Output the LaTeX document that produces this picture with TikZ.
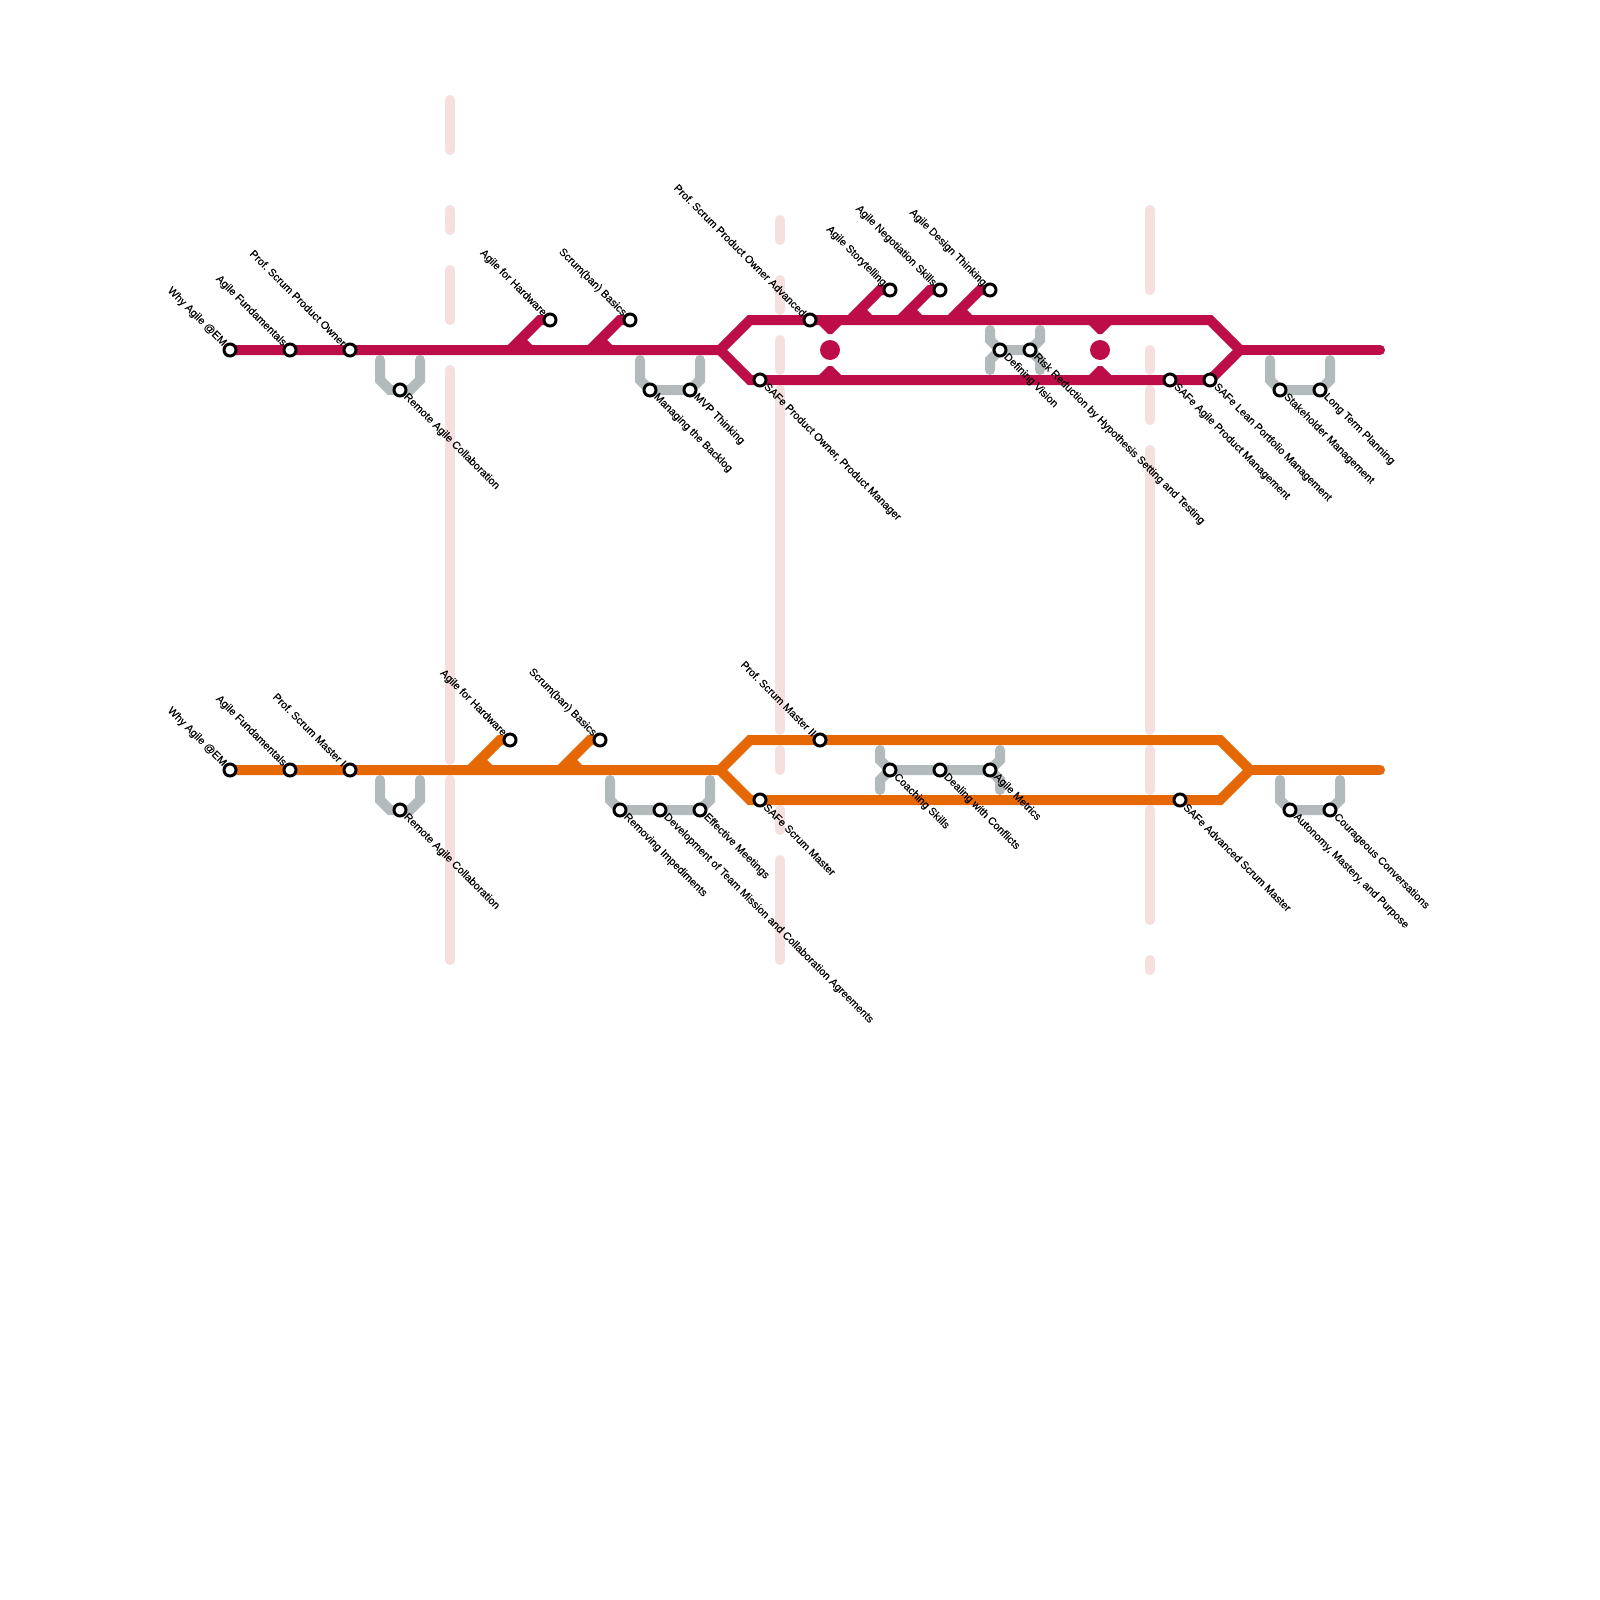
\documentclass[tikz,border=0pt]{standalone}
\usepackage{fontspec}
\setmainfont{Liberation Sans}[FakeBold=0.25]
\usepackage{xcolor}
\usetikzlibrary{backgrounds}
\definecolor{rosso}{HTML}{BC0D49}
\definecolor{arancio}{HTML}{E66805}
\definecolor{grigio}{HTML}{B3BABB}
\definecolor{rosa}{HTML}{F6DFDF}

\begin{document}
\frenchspacing
\begin{tikzpicture}[x=1mm,y=-1mm,
    track/.style={line width=1mm,line join=miter},
    side/.style={line width=1mm,color=grigio,line cap=round},
    phase/.style={line width=1mm,color=rosa,line cap=round},
    stn/.style={circle,draw=black,fill=white,line width=0.3mm,minimum size=1.2mm,inner sep=0pt},
    hub/.style={circle,fill=rosso,minimum size=2mm,inner sep=0pt},
    lbl/.style={rotate=-45,inner sep=0pt,font=\fontsize{3.05}{3.7}\selectfont}]
  \useasboundingbox (0,0) rectangle (160,160);

  % labels go up-left of the stop
  \foreach \nm/\px/\py/\txt in {
    mwhy/23/35/{Why Agile @EM}, mfun/29/35/{Agile Fundamentals},
    mpso/35/35/{Prof. Scrum Product Owner}, mhw/55/32/{Agile for Hardware},
    mban/63/32/{Scrum(ban) Basics}, mpsa/81/32/{Prof. Scrum Product Owner Advanced},
    mtel/89/29/{Agile Storytelling}, mneg/94/29/{Agile Negotiation Skills},
    mdes/99/29/{Agile Design Thinking},
    owhy/23/77/{Why Agile @EM}, ofun/29/77/{Agile Fundamentals},
    opsm/35/77/{Prof. Scrum Master I}, ohw/51/74/{Agile for Hardware},
    oban/60/74/{Scrum(ban) Basics}, opst/82/74/{Prof. Scrum Master II}}{
    \node[stn] (\nm) at (\px,\py) {};
    \node[lbl,anchor=east] (\nm-t) at (\px-0.5,\py-0.5) {\txt};
  }

  % labels go down-right of the stop
  \foreach \nm/\px/\py/\txt in {
    mrem/40/39/{Remote Agile Collaboration}, mbac/65/39/{Managing the Backlog},
    mmvp/69/39/{MVP Thinking}, mpom/76/38/{SAFe Product Owner, Product Manager},
    mvis/100/35/{Defining Vision}, mrisk/103/35/{Risk Reduction by Hypothesis Setting and Testing},
    mapm/117/38/{SAFe Agile Product Management}, mlpm/121/38/{SAFe Lean Portfolio Management},
    msta/128/39/{Stakeholder Management}, mltp/132/39/{Long Term Planning},
    orem/40/81/{Remote Agile Collaboration}, oimp/62/81/{Removing Impediments},
    odev/66/81/{Development of Team Mission and Collaboration Agreements},
    oeff/70/81/{Effective Meetings}, osm/76/80/{SAFe Scrum Master},
    ocoa/89/77/{Coaching Skills}, ocon/94/77/{Dealing with Conflicts},
    omet/99/77/{Agile Metrics}, oadv/118/80/{SAFe Advanced Scrum Master},
    oaut/129/81/{Autonomy, Mastery, and Purpose}, ocou/133/81/{Courageous Conversations}}{
    \node[stn] (\nm) at (\px,\py) {};
    \node[lbl,anchor=west] (\nm-t) at (\px+0.5,\py+0.5) {\txt};
  }

  \coordinate (mfork) at (72,35);
  \coordinate (mjoin) at (124,35);
  \coordinate (mend) at (138,35);
  \coordinate (ofork) at (72,77);
  \coordinate (ojoin) at (125,77);
  \coordinate (oend) at (138,77);
  \node[hub] (hubA) at (83,35) {};
  \node[hub] (hubB) at (110,35) {};

  \begin{pgfonlayer}{background}
    % phase bars
    \foreach \bx/\ya/\yb in {
      45/10/15,45/21/23,45/27/32,45/37/76,45/78/96,
      78/22/24,78/28/31,78/34/37,78/39/73,78/75/77,78/81/83,78/86/96,
      115/21/29,115/35/37,115/39/42,115/45/73,115/75/79,115/81/92,115/96/97}{
      \draw[phase] (\bx,\ya) -- (\bx,\yb);
    }

    % side tracks
    \draw[side] (mrem.center) -- ++(-1,0) -- ++(-1,-1) -- ++(0,-2);
    \draw[side] (mrem.center) -- ++(1,0) -- ++(1,-1) -- ++(0,-2);
    \draw[side] (mbac.center) -- ++(-1,-1) -- ++(0,-2);
    \draw[side] (mbac.center) -- (mmvp.center) -- ++(1,-1) -- ++(0,-2);
    \draw[side] (mvis.center) -- ++(-1,-1) -- ++(0,-1);
    \draw[side] (mvis.center) -- ++(-1,1) -- ++(0,1);
    \draw[side] (mvis.center) -- (mrisk.center) -- ++(1,-1) -- ++(0,-1);
    \draw[side] (mrisk.center) -- ++(1,1) -- ++(0,1);
    \draw[side] (msta.center) -- ++(-1,-1) -- ++(0,-2);
    \draw[side] (msta.center) -- (mltp.center) -- ++(1,-1) -- ++(0,-2);
    \draw[side] (orem.center) -- ++(-1,0) -- ++(-1,-1) -- ++(0,-2);
    \draw[side] (orem.center) -- ++(1,0) -- ++(1,-1) -- ++(0,-2);
    \draw[side] (oimp.center) -- ++(-1,-1) -- ++(0,-2);
    \draw[side] (oimp.center) -- (oeff.center) -- ++(1,-1) -- ++(0,-2);
    \draw[side] (ocoa.center) -- ++(-1,-1) -- ++(0,-1);
    \draw[side] (ocoa.center) -- ++(-1,1) -- ++(0,1);
    \draw[side] (ocoa.center) -- (omet.center) -- ++(1,-1) -- ++(0,-1);
    \draw[side] (omet.center) -- ++(1,1) -- ++(0,1);
    \draw[side] (oaut.center) -- ++(-1,-1) -- ++(0,-2);
    \draw[side] (oaut.center) -- (ocou.center) -- ++(1,-1) -- ++(0,-2);

    % first line
    \draw[track,rosso] (mwhy.center) -- (mfork) -- ++(3,-3) -- (121,32) -- (mjoin);
    \draw[track,rosso] (mfork) -- ++(3,3) -- (mlpm.center) -- (mjoin);
    \draw[track,rosso,line cap=round] (mjoin) -- (mend);
    \foreach \st in {mhw,mban,mtel,mneg,mdes}{
      \draw[track,rosso] (\st.center) -- ++(-1,0) -- ++(-3,3);
      \draw[track,rosso] (\st.center) ++(-3,2) -- ++(1,1);
    }
    \foreach \hb in {hubA,hubB}{
      \fill[rosso] (\hb) ++(-1.2,-2.6) -- ++(2.4,0) -- ++(-1,1) -- ++(-0.4,0) -- cycle;
      \fill[rosso] (\hb) ++(-1.2,2.6) -- ++(2.4,0) -- ++(-1,-1) -- ++(-0.4,0) -- cycle;
    }

    % second line
    \draw[track,arancio] (owhy.center) -- (ofork) -- ++(3,-3) -- (122,74) -- (ojoin);
    \draw[track,arancio] (ofork) -- ++(3,3) -- (122,80) -- (ojoin);
    \draw[track,arancio,line cap=round] (ojoin) -- (oend);
    \foreach \st in {ohw,oban}{
      \draw[track,arancio] (\st.center) -- ++(-1,0) -- ++(-3,3);
      \draw[track,arancio] (\st.center) ++(-3,2) -- ++(1,1);
    }
  \end{pgfonlayer}
\end{tikzpicture}
\end{document}
